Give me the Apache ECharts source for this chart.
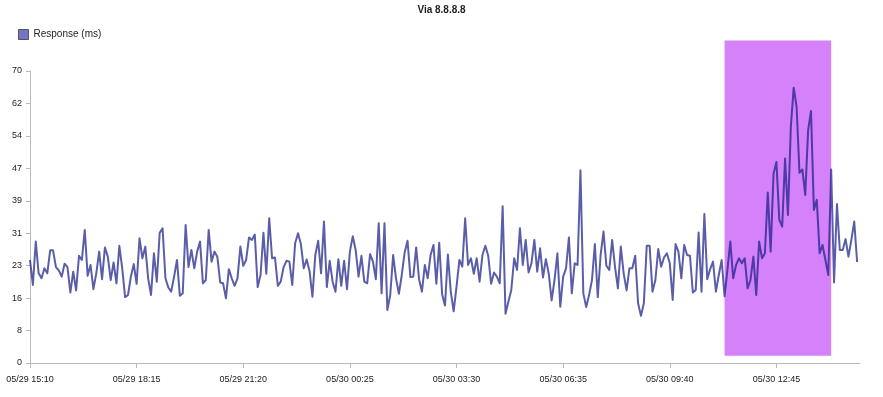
<!DOCTYPE html>
<html>
<head>
<meta charset="utf-8">
<script src="https://cdn.jsdelivr.net/npm/echarts@6/dist/echarts.min.js"></script>
<style>
html,body{margin:0;padding:0;background:#fff;}
#chart{width:883px;height:397px;}
</style>
</head>
<body>
<div id="chart"></div>
<script>
// ---- data ----
const chartTitle = 'Via 8.8.8.8';
const seriesName = 'Response (ms)';
const startTime = Date.UTC(2000, 4, 29, 15, 10); // 05/29 15:10
const stepMinutes = 5;
const categoryCount = 289; // 05/29 15:10 .. 05/30 15:10
const responseMs = [
24.7,18.7,29.1,21.5,20.3,22.7,21.5,27,27,23,22.2,20.7,23.8,23,16.9,21.9,17.4,25.7,24.7,31.9,
20.9,23.5,17.7,21.5,26.7,20.1,27.7,25.5,19.9,24.1,19.1,28.1,22.7,15.8,16.3,20.7,23.7,19,29.9,25.1,
27.9,20.3,16.3,26.3,19.5,31.2,32.3,20.3,18.1,17.1,20.7,24.7,16.1,16.7,33.1,23,27.1,22.7,26.7,29.1,
19.1,19.9,31.9,24.3,26.7,25.5,19.3,19.1,15.5,22.5,20.3,18.5,20.3,27.9,23.3,24.7,30.1,29.5,30.8,18.2,
21.1,31.2,21.4,34.7,25.1,25.3,18.5,19.5,23,24.5,24.3,18.7,28.7,31.1,28.5,22.7,24.8,22,15.9,25.9,
29.3,21.5,33.9,18.2,24.5,19.5,17.1,24.9,18.5,24.5,17.7,26.7,30.4,27.1,20.7,25.7,19.5,19.1,26.1,24.3,
20.1,33.5,16.7,33.5,12.7,16.3,25.9,20.3,16.6,21.1,26.5,29.3,20.6,20.7,27.7,20.1,17.1,23.5,20.3,25.9,
28.3,19,28.8,16.5,13.8,26,17.1,12.4,18.3,24.7,23.1,34.7,23.5,25.1,21.4,25.1,19.5,25.9,28.1,25.7,
19,21.7,20.7,19.1,37.6,11.8,14.7,17.5,25.1,22.3,32.3,23.5,29.5,21.7,23.9,29.5,21.9,27.5,20.5,24.9,
21.4,15,19.9,26.3,13.5,20.7,22.7,30.1,16.7,23.9,23.5,46.2,16.7,13.4,16.3,19.9,28.5,15.8,25.9,31.5,
23.3,22.3,29.5,23,17.9,27.9,21.5,17.4,22.7,22.7,25.7,14.3,11.3,14.3,28.1,28.1,17.1,19.9,27.3,23.1,
25.3,26.3,23.9,15.1,28.5,26.7,20.3,28.3,25.9,25.7,16.9,17.5,31.3,17.1,35.7,20.1,22.5,24.3,17.1,21.1,
24.7,16,22.3,29.1,20.3,23.5,25.1,23.9,25.1,17.9,19.9,25.5,16.3,29.1,25.1,26.3,40.9,26.7,45.4,48.2,
34.3,32.7,49,35.5,56.6,66,61.4,45.6,46.4,40.3,55.8,60.4,36.7,39.1,26.3,28.3,24.7,21.1,46.4,19.3,
38.1,27.1,27.1,29.7,25.5,29.5,33.9,24.2
];
const yMin = 0;
const yMax = 70;
const yTickCount = 9;
const labelEvery = 37; // 185 minutes
// highlighted period
const highlightFrom = '05/30 11:15';
const highlightTo = '05/30 14:20';
const highlightLow = 1.75;
const highlightHigh = 77.3;

function pad(n){ return (n < 10 ? '0' : '') + n; }
const categories = [];
for (let i = 0; i < categoryCount; i++) {
  const d = new Date(startTime + i * stepMinutes * 60000);
  categories.push(pad(d.getUTCMonth() + 1) + '/' + pad(d.getUTCDate()) + ' ' + pad(d.getUTCHours()) + ':' + pad(d.getUTCMinutes()));
}

const font = "'Liberation Sans', Arial, sans-serif";
const chart = echarts.init(document.getElementById('chart'), null, {renderer: 'canvas'});
chart.setOption({
  animation: false,
  backgroundColor: '#fff',
  title: {
    text: chartTitle, left: 'center', top: 0,
    textStyle: {fontFamily: font, fontSize: 10, fontWeight: 'bold', color: '#222'}
  },
  legend: {
    left: 13, top: 24, icon: 'rect', itemWidth: 10, itemHeight: 10, itemGap: 5,
    data: [{name: seriesName, itemStyle: {color: '#7474c4', borderColor: '#555', borderWidth: 1}}],
    textStyle: {fontFamily: font, fontSize: 10, color: '#222'}
  },
  grid: {left: 30, right: 23, top: 71, bottom: 34, containLabel: false},
  xAxis: {
    type: 'category', data: categories, boundaryGap: false,
    axisLine: {lineStyle: {color: '#bbb', width: 1}},
    axisTick: {interval: labelEvery - 1, length: 5, lineStyle: {color: '#bbb'}},
    axisLabel: {interval: labelEvery - 1, margin: 12, fontFamily: font, fontSize: 9, color: '#222'},
    splitLine: {show: false}
  },
  yAxis: {
    type: 'value', min: yMin, max: yMax, interval: (yMax - yMin) / yTickCount,
    axisLine: {show: true, lineStyle: {color: '#bbb', width: 1}},
    axisTick: {show: true, length: 4, lineStyle: {color: '#bbb'}},
    axisLabel: {margin: 8, fontFamily: font, fontSize: 9, color: '#222', formatter: v => Math.round(v)},
    splitLine: {show: false}
  },
  series: [{
    name: seriesName, type: 'line', data: responseMs,
    showSymbol: false, symbol: 'none', z: 3,
    itemStyle: {color: '#5b5ea8'},
    lineStyle: {color: 'rgba(20,25,132,0.7)', width: 2, join: 'round'}
  }]
});
const p1 = chart.convertToPixel({gridIndex: 0}, [highlightFrom, highlightHigh]);
const p2 = chart.convertToPixel({gridIndex: 0}, [highlightTo, highlightLow]);
chart.setOption({
  graphic: [{
    type: 'rect', z: 0, silent: true,
    shape: {x: p1[0], y: p1[1], width: p2[0] - p1[0], height: p2[1] - p1[1]},
    style: {fill: '#d582fa'}
  }]
});
</script>
</body>
</html>
